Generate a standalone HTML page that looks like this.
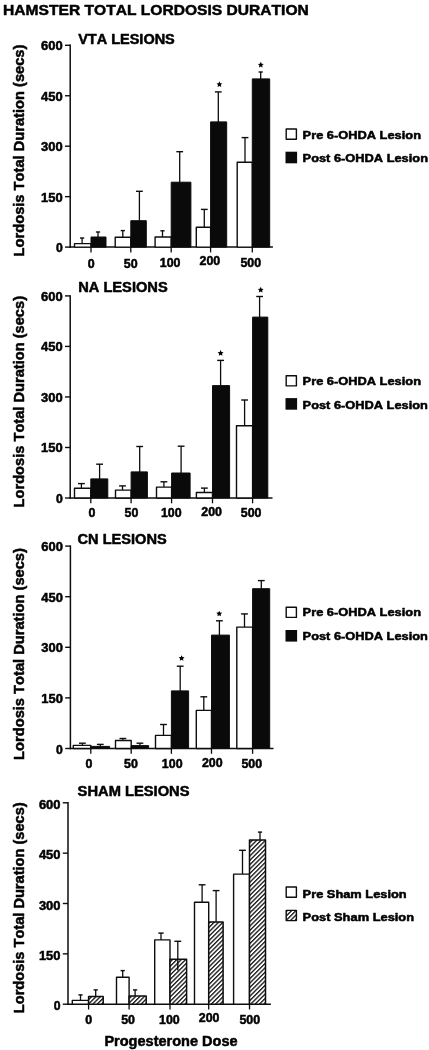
<!DOCTYPE html><html><head><meta charset="utf-8"><style>html,body{margin:0;padding:0;background:#fff;}svg{display:block;filter:blur(0.45px);}text{font-kerning:none;stroke:#000;stroke-width:0.5px;paint-order:stroke;}</style></head><body>
<svg width="429" height="1050" viewBox="0 0 429 1050">
<defs><pattern id="h" patternUnits="userSpaceOnUse" width="3.1" height="3.1" patternTransform="rotate(45)"><rect width="3.1" height="3.1" fill="#fff"/><rect x="0" y="0" width="1.35" height="3.1" fill="#1a1a1a"/></pattern></defs>
<rect width="429" height="1050" fill="#fff"/>
<g font-family='"Liberation Sans", sans-serif' font-weight="bold" fill="#000" stroke-linejoin="round">
<text x="3.1" y="15.3" font-size="15.5" textLength="305.7" lengthAdjust="spacingAndGlyphs">HAMSTER TOTAL LORDOSIS DURATION</text>
<text x="78.2" y="44.2" font-size="14" textLength="96.6" lengthAdjust="spacingAndGlyphs">VTA LESIONS</text>
<text transform="translate(23.9,150.5) rotate(-90)" x="0" y="0" font-size="14" text-anchor="middle" textLength="211.8" lengthAdjust="spacingAndGlyphs">Lordosis Total Duration (secs)</text>
<line x1="65" y1="247.1" x2="70.2" y2="247.1" stroke="#0d0d0d" stroke-width="1.4"/>
<text x="62.7" y="252.1" font-size="12.2" text-anchor="end">0</text>
<line x1="65" y1="196.65" x2="70.2" y2="196.65" stroke="#0d0d0d" stroke-width="1.4"/>
<text x="62.7" y="201.65" font-size="12.2" text-anchor="end" textLength="21.6" lengthAdjust="spacingAndGlyphs">150</text>
<line x1="65" y1="146.2" x2="70.2" y2="146.2" stroke="#0d0d0d" stroke-width="1.4"/>
<text x="62.7" y="151.2" font-size="12.2" text-anchor="end" textLength="21.6" lengthAdjust="spacingAndGlyphs">300</text>
<line x1="65" y1="95.75" x2="70.2" y2="95.75" stroke="#0d0d0d" stroke-width="1.4"/>
<text x="62.7" y="100.75" font-size="12.2" text-anchor="end" textLength="21.6" lengthAdjust="spacingAndGlyphs">450</text>
<line x1="65" y1="45.3" x2="70.2" y2="45.3" stroke="#0d0d0d" stroke-width="1.4"/>
<text x="62.7" y="50.3" font-size="12.2" text-anchor="end" textLength="21.6" lengthAdjust="spacingAndGlyphs">600</text>
<line x1="70.2" y1="44.6" x2="70.2" y2="247.8" stroke="#0d0d0d" stroke-width="1.5"/>
<line x1="69.5" y1="247.1" x2="272.9" y2="247.1" stroke="#0d0d0d" stroke-width="1.5"/>
<line x1="91" y1="247.1" x2="91" y2="252.4" stroke="#0d0d0d" stroke-width="1.3"/>
<line x1="82.1" y1="238" x2="82.1" y2="243.6" stroke="#0d0d0d" stroke-width="1.3"/>
<line x1="80" y1="238" x2="84.2" y2="238" stroke="#0d0d0d" stroke-width="1.4"/>
<line x1="98" y1="232" x2="98" y2="237" stroke="#0d0d0d" stroke-width="1.3"/>
<line x1="95.9" y1="232" x2="100.1" y2="232" stroke="#0d0d0d" stroke-width="1.4"/>
<rect x="74.5" y="243.6" width="16.5" height="3.5" fill="#fff" stroke="#0d0d0d" stroke-width="1.4"/>
<rect x="91" y="237" width="15" height="10.1" fill="#0a0a0a" stroke="#0d0d0d" stroke-width="1.0"/>
<text x="91.3" y="268.2" font-size="12.4" text-anchor="middle">0</text>
<line x1="130.8" y1="247.1" x2="130.8" y2="252.4" stroke="#0d0d0d" stroke-width="1.3"/>
<line x1="122.8" y1="230.6" x2="122.8" y2="237.2" stroke="#0d0d0d" stroke-width="1.3"/>
<line x1="120.7" y1="230.6" x2="124.9" y2="230.6" stroke="#0d0d0d" stroke-width="1.4"/>
<line x1="139.4" y1="191.3" x2="139.4" y2="220.7" stroke="#0d0d0d" stroke-width="1.3"/>
<line x1="136" y1="191.3" x2="142.8" y2="191.3" stroke="#0d0d0d" stroke-width="1.4"/>
<rect x="115.2" y="237.2" width="15.6" height="9.9" fill="#fff" stroke="#0d0d0d" stroke-width="1.4"/>
<rect x="130.8" y="220.7" width="15.5" height="26.4" fill="#0a0a0a" stroke="#0d0d0d" stroke-width="1.0"/>
<text x="130.7" y="267.6" font-size="12.4" text-anchor="middle">50</text>
<line x1="171.2" y1="247.1" x2="171.2" y2="252.4" stroke="#0d0d0d" stroke-width="1.3"/>
<line x1="162.5" y1="230.8" x2="162.5" y2="237" stroke="#0d0d0d" stroke-width="1.3"/>
<line x1="160.4" y1="230.8" x2="164.6" y2="230.8" stroke="#0d0d0d" stroke-width="1.4"/>
<line x1="179.7" y1="151.7" x2="179.7" y2="182.2" stroke="#0d0d0d" stroke-width="1.3"/>
<line x1="176.3" y1="151.7" x2="183.1" y2="151.7" stroke="#0d0d0d" stroke-width="1.4"/>
<rect x="155.1" y="237" width="16.1" height="10.1" fill="#fff" stroke="#0d0d0d" stroke-width="1.4"/>
<rect x="171.2" y="182.2" width="19.7" height="64.9" fill="#0a0a0a" stroke="#0d0d0d" stroke-width="1.0"/>
<text x="170.1" y="267" font-size="12.4" text-anchor="middle">100</text>
<line x1="210.6" y1="247.1" x2="210.6" y2="252.4" stroke="#0d0d0d" stroke-width="1.3"/>
<line x1="204.3" y1="209.4" x2="204.3" y2="227.2" stroke="#0d0d0d" stroke-width="1.3"/>
<line x1="200.9" y1="209.4" x2="207.7" y2="209.4" stroke="#0d0d0d" stroke-width="1.4"/>
<line x1="218.3" y1="91.9" x2="218.3" y2="121.9" stroke="#0d0d0d" stroke-width="1.3"/>
<line x1="214.9" y1="91.9" x2="221.7" y2="91.9" stroke="#0d0d0d" stroke-width="1.4"/>
<rect x="196.3" y="227.2" width="14.3" height="19.9" fill="#fff" stroke="#0d0d0d" stroke-width="1.4"/>
<rect x="210.6" y="121.9" width="16.1" height="125.2" fill="#0a0a0a" stroke="#0d0d0d" stroke-width="1.0"/>
<polygon points="219.4,81.3 220.28,83.19 222.35,83.44 220.83,84.86 221.22,86.91 219.4,85.9 217.58,86.91 217.97,84.86 216.45,83.44 218.52,83.19" fill="#000"/>
<text x="209.9" y="264.8" font-size="12.4" text-anchor="middle">200</text>
<line x1="252.3" y1="247.1" x2="252.3" y2="252.4" stroke="#0d0d0d" stroke-width="1.3"/>
<line x1="245" y1="137.6" x2="245" y2="162.2" stroke="#0d0d0d" stroke-width="1.3"/>
<line x1="241.6" y1="137.6" x2="248.4" y2="137.6" stroke="#0d0d0d" stroke-width="1.4"/>
<line x1="260.7" y1="72" x2="260.7" y2="78.9" stroke="#0d0d0d" stroke-width="1.3"/>
<line x1="258.6" y1="72" x2="262.8" y2="72" stroke="#0d0d0d" stroke-width="1.4"/>
<rect x="237.2" y="162.2" width="15.1" height="84.9" fill="#fff" stroke="#0d0d0d" stroke-width="1.4"/>
<rect x="252.3" y="78.9" width="17.4" height="168.2" fill="#0a0a0a" stroke="#0d0d0d" stroke-width="1.0"/>
<polygon points="260.8,61.8 261.68,63.69 263.75,63.94 262.23,65.36 262.62,67.41 260.8,66.4 258.98,67.41 259.37,65.36 257.85,63.94 259.92,63.69" fill="#000"/>
<text x="250.8" y="266.5" font-size="12.4" text-anchor="middle">500</text>
<rect x="286.2" y="129" width="10.2" height="10.2" fill="#fff" stroke="#0d0d0d" stroke-width="1.4"/>
<rect x="285.5" y="151.7" width="11.6" height="11.6" fill="#0a0a0a"/>
<text x="302.6" y="138.5" font-size="11" textLength="118.4" lengthAdjust="spacingAndGlyphs">Pre 6-OHDA Lesion</text>
<text x="302.6" y="162.1" font-size="11" textLength="125.4" lengthAdjust="spacingAndGlyphs">Post 6-OHDA Lesion</text>
<text x="78.2" y="292.2" font-size="14" textLength="89.5" lengthAdjust="spacingAndGlyphs">NA LESIONS</text>
<text transform="translate(23.9,401.7) rotate(-90)" x="0" y="0" font-size="14" text-anchor="middle" textLength="211.4" lengthAdjust="spacingAndGlyphs">Lordosis Total Duration (secs)</text>
<line x1="65" y1="498" x2="70.2" y2="498" stroke="#0d0d0d" stroke-width="1.4"/>
<text x="62.7" y="503" font-size="12.2" text-anchor="end">0</text>
<line x1="65" y1="447.48" x2="70.2" y2="447.48" stroke="#0d0d0d" stroke-width="1.4"/>
<text x="62.7" y="452.48" font-size="12.2" text-anchor="end" textLength="21.6" lengthAdjust="spacingAndGlyphs">150</text>
<line x1="65" y1="396.95" x2="70.2" y2="396.95" stroke="#0d0d0d" stroke-width="1.4"/>
<text x="62.7" y="401.95" font-size="12.2" text-anchor="end" textLength="21.6" lengthAdjust="spacingAndGlyphs">300</text>
<line x1="65" y1="346.42" x2="70.2" y2="346.42" stroke="#0d0d0d" stroke-width="1.4"/>
<text x="62.7" y="351.42" font-size="12.2" text-anchor="end" textLength="21.6" lengthAdjust="spacingAndGlyphs">450</text>
<line x1="65" y1="295.9" x2="70.2" y2="295.9" stroke="#0d0d0d" stroke-width="1.4"/>
<text x="62.7" y="300.9" font-size="12.2" text-anchor="end" textLength="21.6" lengthAdjust="spacingAndGlyphs">600</text>
<line x1="70.2" y1="295.2" x2="70.2" y2="498.7" stroke="#0d0d0d" stroke-width="1.5"/>
<line x1="69.5" y1="498" x2="272.5" y2="498" stroke="#0d0d0d" stroke-width="1.5"/>
<line x1="90.8" y1="498" x2="90.8" y2="503.3" stroke="#0d0d0d" stroke-width="1.3"/>
<line x1="81.4" y1="483.6" x2="81.4" y2="488.3" stroke="#0d0d0d" stroke-width="1.3"/>
<line x1="78" y1="483.6" x2="84.8" y2="483.6" stroke="#0d0d0d" stroke-width="1.4"/>
<line x1="99.6" y1="464.2" x2="99.6" y2="478.9" stroke="#0d0d0d" stroke-width="1.3"/>
<line x1="96.2" y1="464.2" x2="103" y2="464.2" stroke="#0d0d0d" stroke-width="1.4"/>
<rect x="74.5" y="488.3" width="16.3" height="9.7" fill="#fff" stroke="#0d0d0d" stroke-width="1.4"/>
<rect x="90.8" y="478.9" width="17" height="19.1" fill="#0a0a0a" stroke="#0d0d0d" stroke-width="1.0"/>
<text x="92" y="517.2" font-size="12.4" text-anchor="middle">0</text>
<line x1="131.1" y1="498" x2="131.1" y2="503.3" stroke="#0d0d0d" stroke-width="1.3"/>
<line x1="122.5" y1="485.9" x2="122.5" y2="490.1" stroke="#0d0d0d" stroke-width="1.3"/>
<line x1="119.1" y1="485.9" x2="125.9" y2="485.9" stroke="#0d0d0d" stroke-width="1.4"/>
<line x1="139.7" y1="446.5" x2="139.7" y2="471.9" stroke="#0d0d0d" stroke-width="1.3"/>
<line x1="136.3" y1="446.5" x2="143.1" y2="446.5" stroke="#0d0d0d" stroke-width="1.4"/>
<rect x="115.5" y="490.1" width="15.6" height="7.9" fill="#fff" stroke="#0d0d0d" stroke-width="1.4"/>
<rect x="131.1" y="471.9" width="16.3" height="26.1" fill="#0a0a0a" stroke="#0d0d0d" stroke-width="1.0"/>
<text x="131.5" y="517.2" font-size="12.4" text-anchor="middle">50</text>
<line x1="171.6" y1="498" x2="171.6" y2="503.3" stroke="#0d0d0d" stroke-width="1.3"/>
<line x1="163.9" y1="481.8" x2="163.9" y2="487.1" stroke="#0d0d0d" stroke-width="1.3"/>
<line x1="160.5" y1="481.8" x2="167.3" y2="481.8" stroke="#0d0d0d" stroke-width="1.4"/>
<line x1="181.1" y1="446.2" x2="181.1" y2="473" stroke="#0d0d0d" stroke-width="1.3"/>
<line x1="177.7" y1="446.2" x2="184.5" y2="446.2" stroke="#0d0d0d" stroke-width="1.4"/>
<rect x="156.5" y="487.1" width="15.1" height="10.9" fill="#fff" stroke="#0d0d0d" stroke-width="1.4"/>
<rect x="171.6" y="473" width="18.5" height="25" fill="#0a0a0a" stroke="#0d0d0d" stroke-width="1.0"/>
<text x="171.3" y="517" font-size="12.4" text-anchor="middle">100</text>
<line x1="212.5" y1="498" x2="212.5" y2="503.3" stroke="#0d0d0d" stroke-width="1.3"/>
<line x1="204.4" y1="488.1" x2="204.4" y2="492.5" stroke="#0d0d0d" stroke-width="1.3"/>
<line x1="201" y1="488.1" x2="207.8" y2="488.1" stroke="#0d0d0d" stroke-width="1.4"/>
<line x1="220.6" y1="360.4" x2="220.6" y2="385.6" stroke="#0d0d0d" stroke-width="1.3"/>
<line x1="217.2" y1="360.4" x2="224" y2="360.4" stroke="#0d0d0d" stroke-width="1.4"/>
<rect x="196.4" y="492.5" width="16.1" height="5.5" fill="#fff" stroke="#0d0d0d" stroke-width="1.4"/>
<rect x="212.5" y="385.6" width="17.1" height="112.4" fill="#0a0a0a" stroke="#0d0d0d" stroke-width="1.0"/>
<polygon points="220.6,350.1 221.48,351.99 223.55,352.24 222.03,353.66 222.42,355.71 220.6,354.7 218.78,355.71 219.17,353.66 217.65,352.24 219.72,351.99" fill="#000"/>
<text x="211.6" y="515.7" font-size="12.4" text-anchor="middle">200</text>
<line x1="252.6" y1="498" x2="252.6" y2="503.3" stroke="#0d0d0d" stroke-width="1.3"/>
<line x1="244.6" y1="400" x2="244.6" y2="425.7" stroke="#0d0d0d" stroke-width="1.3"/>
<line x1="241.2" y1="400" x2="248" y2="400" stroke="#0d0d0d" stroke-width="1.4"/>
<line x1="259.6" y1="296.5" x2="259.6" y2="317.1" stroke="#0d0d0d" stroke-width="1.3"/>
<line x1="256.2" y1="296.5" x2="263" y2="296.5" stroke="#0d0d0d" stroke-width="1.4"/>
<rect x="236.5" y="425.7" width="16.1" height="72.3" fill="#fff" stroke="#0d0d0d" stroke-width="1.4"/>
<rect x="252.6" y="317.1" width="15.2" height="180.9" fill="#0a0a0a" stroke="#0d0d0d" stroke-width="1.0"/>
<polygon points="260.7,286.8 261.58,288.69 263.65,288.94 262.13,290.36 262.52,292.41 260.7,291.4 258.88,292.41 259.27,290.36 257.75,288.94 259.82,288.69" fill="#000"/>
<text x="251.1" y="517" font-size="12.4" text-anchor="middle">500</text>
<rect x="286.2" y="375.7" width="10.2" height="10.2" fill="#fff" stroke="#0d0d0d" stroke-width="1.4"/>
<rect x="285.5" y="398.1" width="11.6" height="11.6" fill="#0a0a0a"/>
<text x="302.6" y="384.8" font-size="11" textLength="118.4" lengthAdjust="spacingAndGlyphs">Pre 6-OHDA Lesion</text>
<text x="302.6" y="408.6" font-size="11" textLength="125.3" lengthAdjust="spacingAndGlyphs">Post 6-OHDA Lesion</text>
<text x="77.6" y="543.5" font-size="14" textLength="89.1" lengthAdjust="spacingAndGlyphs">CN LESIONS</text>
<text transform="translate(23.9,654) rotate(-90)" x="0" y="0" font-size="14" text-anchor="middle" textLength="211.8" lengthAdjust="spacingAndGlyphs">Lordosis Total Duration (secs)</text>
<line x1="65.2" y1="748.5" x2="70.4" y2="748.5" stroke="#0d0d0d" stroke-width="1.4"/>
<text x="62.9" y="753.5" font-size="12.2" text-anchor="end">0</text>
<line x1="65.2" y1="697.9" x2="70.4" y2="697.9" stroke="#0d0d0d" stroke-width="1.4"/>
<text x="62.9" y="702.9" font-size="12.2" text-anchor="end" textLength="21.6" lengthAdjust="spacingAndGlyphs">150</text>
<line x1="65.2" y1="647.3" x2="70.4" y2="647.3" stroke="#0d0d0d" stroke-width="1.4"/>
<text x="62.9" y="652.3" font-size="12.2" text-anchor="end" textLength="21.6" lengthAdjust="spacingAndGlyphs">300</text>
<line x1="65.2" y1="596.7" x2="70.4" y2="596.7" stroke="#0d0d0d" stroke-width="1.4"/>
<text x="62.9" y="601.7" font-size="12.2" text-anchor="end" textLength="21.6" lengthAdjust="spacingAndGlyphs">450</text>
<line x1="65.2" y1="546.1" x2="70.4" y2="546.1" stroke="#0d0d0d" stroke-width="1.4"/>
<text x="62.9" y="551.1" font-size="12.2" text-anchor="end" textLength="21.6" lengthAdjust="spacingAndGlyphs">600</text>
<line x1="70.4" y1="545.4" x2="70.4" y2="749.2" stroke="#0d0d0d" stroke-width="1.5"/>
<line x1="69.7" y1="748.5" x2="273.5" y2="748.5" stroke="#0d0d0d" stroke-width="1.5"/>
<line x1="90.8" y1="748.5" x2="90.8" y2="753.8" stroke="#0d0d0d" stroke-width="1.3"/>
<line x1="82.4" y1="743.2" x2="82.4" y2="745.4" stroke="#0d0d0d" stroke-width="1.3"/>
<line x1="79" y1="743.2" x2="85.8" y2="743.2" stroke="#0d0d0d" stroke-width="1.4"/>
<line x1="100.3" y1="744.4" x2="100.3" y2="746.4" stroke="#0d0d0d" stroke-width="1.3"/>
<line x1="96.9" y1="744.4" x2="103.7" y2="744.4" stroke="#0d0d0d" stroke-width="1.4"/>
<rect x="73.3" y="745.4" width="17.5" height="3.1" fill="#fff" stroke="#0d0d0d" stroke-width="1.4"/>
<rect x="90.8" y="746.4" width="18.8" height="2.1" fill="#0a0a0a" stroke="#0d0d0d" stroke-width="1.0"/>
<text x="89" y="768.4" font-size="12.4" text-anchor="middle">0</text>
<line x1="131.2" y1="748.5" x2="131.2" y2="753.8" stroke="#0d0d0d" stroke-width="1.3"/>
<line x1="122.9" y1="738.5" x2="122.9" y2="740.5" stroke="#0d0d0d" stroke-width="1.3"/>
<line x1="119.5" y1="738.5" x2="126.3" y2="738.5" stroke="#0d0d0d" stroke-width="1.4"/>
<line x1="139.9" y1="743.2" x2="139.9" y2="745.6" stroke="#0d0d0d" stroke-width="1.3"/>
<line x1="136.5" y1="743.2" x2="143.3" y2="743.2" stroke="#0d0d0d" stroke-width="1.4"/>
<rect x="115.5" y="740.5" width="15.7" height="8" fill="#fff" stroke="#0d0d0d" stroke-width="1.4"/>
<rect x="131.2" y="745.6" width="17.4" height="2.9" fill="#0a0a0a" stroke="#0d0d0d" stroke-width="1.0"/>
<text x="131" y="768.4" font-size="12.4" text-anchor="middle">50</text>
<line x1="171.4" y1="748.5" x2="171.4" y2="753.8" stroke="#0d0d0d" stroke-width="1.3"/>
<line x1="163.5" y1="724.5" x2="163.5" y2="735.4" stroke="#0d0d0d" stroke-width="1.3"/>
<line x1="160.1" y1="724.5" x2="166.9" y2="724.5" stroke="#0d0d0d" stroke-width="1.4"/>
<line x1="180.2" y1="666.2" x2="180.2" y2="690.9" stroke="#0d0d0d" stroke-width="1.3"/>
<line x1="176.8" y1="666.2" x2="183.6" y2="666.2" stroke="#0d0d0d" stroke-width="1.4"/>
<rect x="155.5" y="735.4" width="15.9" height="13.1" fill="#fff" stroke="#0d0d0d" stroke-width="1.4"/>
<rect x="171.4" y="690.9" width="17.2" height="57.6" fill="#0a0a0a" stroke="#0d0d0d" stroke-width="1.0"/>
<polygon points="181.6,655.2 182.48,657.09 184.55,657.34 183.03,658.76 183.42,660.81 181.6,659.8 179.78,660.81 180.17,658.76 178.65,657.34 180.72,657.09" fill="#000"/>
<text x="172.2" y="767.9" font-size="12.4" text-anchor="middle">100</text>
<line x1="211.5" y1="748.5" x2="211.5" y2="753.8" stroke="#0d0d0d" stroke-width="1.3"/>
<line x1="203.8" y1="696.8" x2="203.8" y2="710.4" stroke="#0d0d0d" stroke-width="1.3"/>
<line x1="200.4" y1="696.8" x2="207.2" y2="696.8" stroke="#0d0d0d" stroke-width="1.4"/>
<line x1="219.4" y1="620.8" x2="219.4" y2="635.1" stroke="#0d0d0d" stroke-width="1.3"/>
<line x1="216" y1="620.8" x2="222.8" y2="620.8" stroke="#0d0d0d" stroke-width="1.4"/>
<rect x="196.3" y="710.4" width="15.2" height="38.1" fill="#fff" stroke="#0d0d0d" stroke-width="1.4"/>
<rect x="211.5" y="635.1" width="17.9" height="113.4" fill="#0a0a0a" stroke="#0d0d0d" stroke-width="1.0"/>
<polygon points="219.2,610.7 220.08,612.59 222.15,612.84 220.63,614.26 221.02,616.31 219.2,615.3 217.38,616.31 217.77,614.26 216.25,612.84 218.32,612.59" fill="#000"/>
<text x="212.3" y="766.5" font-size="12.4" text-anchor="middle">200</text>
<line x1="252.6" y1="748.5" x2="252.6" y2="753.8" stroke="#0d0d0d" stroke-width="1.3"/>
<line x1="244.5" y1="613.9" x2="244.5" y2="627.1" stroke="#0d0d0d" stroke-width="1.3"/>
<line x1="241.1" y1="613.9" x2="247.9" y2="613.9" stroke="#0d0d0d" stroke-width="1.4"/>
<line x1="261.3" y1="580.6" x2="261.3" y2="588.7" stroke="#0d0d0d" stroke-width="1.3"/>
<line x1="257.9" y1="580.6" x2="264.7" y2="580.6" stroke="#0d0d0d" stroke-width="1.4"/>
<rect x="236.8" y="627.1" width="15.8" height="121.4" fill="#fff" stroke="#0d0d0d" stroke-width="1.4"/>
<rect x="252.6" y="588.7" width="17.1" height="159.8" fill="#0a0a0a" stroke="#0d0d0d" stroke-width="1.0"/>
<text x="251.8" y="767.9" font-size="12.4" text-anchor="middle">500</text>
<rect x="286.2" y="607.2" width="10.2" height="10.2" fill="#fff" stroke="#0d0d0d" stroke-width="1.4"/>
<rect x="285.5" y="630" width="11.6" height="11.6" fill="#0a0a0a"/>
<text x="302.6" y="616" font-size="11" textLength="118.4" lengthAdjust="spacingAndGlyphs">Pre 6-OHDA Lesion</text>
<text x="302.6" y="640" font-size="11" textLength="125.3" lengthAdjust="spacingAndGlyphs">Post 6-OHDA Lesion</text>
<text x="77.6" y="796.1" font-size="14" textLength="111.9" lengthAdjust="spacingAndGlyphs">SHAM LESIONS</text>
<text transform="translate(23.9,907.8) rotate(-90)" x="0" y="0" font-size="14" text-anchor="middle" textLength="210.8" lengthAdjust="spacingAndGlyphs">Lordosis Total Duration (secs)</text>
<line x1="62.8" y1="1004.2" x2="68" y2="1004.2" stroke="#0d0d0d" stroke-width="1.4"/>
<text x="60.5" y="1010.2" font-size="12.2" text-anchor="end">0</text>
<line x1="62.8" y1="953.85" x2="68" y2="953.85" stroke="#0d0d0d" stroke-width="1.4"/>
<text x="60.5" y="959.85" font-size="12.2" text-anchor="end" textLength="21.6" lengthAdjust="spacingAndGlyphs">150</text>
<line x1="62.8" y1="903.5" x2="68" y2="903.5" stroke="#0d0d0d" stroke-width="1.4"/>
<text x="60.5" y="909.5" font-size="12.2" text-anchor="end" textLength="21.6" lengthAdjust="spacingAndGlyphs">300</text>
<line x1="62.8" y1="853.15" x2="68" y2="853.15" stroke="#0d0d0d" stroke-width="1.4"/>
<text x="60.5" y="859.15" font-size="12.2" text-anchor="end" textLength="21.6" lengthAdjust="spacingAndGlyphs">450</text>
<line x1="62.8" y1="802.8" x2="68" y2="802.8" stroke="#0d0d0d" stroke-width="1.4"/>
<text x="60.5" y="808.8" font-size="12.2" text-anchor="end" textLength="21.6" lengthAdjust="spacingAndGlyphs">600</text>
<line x1="68" y1="802.1" x2="68" y2="1004.9" stroke="#0d0d0d" stroke-width="1.5"/>
<line x1="67.3" y1="1004.2" x2="270.9" y2="1004.2" stroke="#0d0d0d" stroke-width="1.5"/>
<line x1="88.6" y1="1004.2" x2="88.6" y2="1009.5" stroke="#0d0d0d" stroke-width="1.3"/>
<line x1="80.5" y1="994.9" x2="80.5" y2="1000.4" stroke="#0d0d0d" stroke-width="1.3"/>
<line x1="78.4" y1="994.9" x2="82.6" y2="994.9" stroke="#0d0d0d" stroke-width="1.4"/>
<line x1="95.7" y1="989.9" x2="95.7" y2="996.4" stroke="#0d0d0d" stroke-width="1.3"/>
<line x1="93.6" y1="989.9" x2="97.8" y2="989.9" stroke="#0d0d0d" stroke-width="1.4"/>
<rect x="72.3" y="1000.4" width="16.3" height="3.8" fill="#fff" stroke="#0d0d0d" stroke-width="1.4"/>
<rect x="88.6" y="996.4" width="14.6" height="7.8" fill="url(#h)" stroke="#0d0d0d" stroke-width="1.5"/>
<text x="88.6" y="1024.2" font-size="12.4" text-anchor="middle">0</text>
<line x1="129.1" y1="1004.2" x2="129.1" y2="1009.5" stroke="#0d0d0d" stroke-width="1.3"/>
<line x1="122.7" y1="970.6" x2="122.7" y2="977.3" stroke="#0d0d0d" stroke-width="1.3"/>
<line x1="120.6" y1="970.6" x2="124.8" y2="970.6" stroke="#0d0d0d" stroke-width="1.4"/>
<line x1="135.1" y1="989.9" x2="135.1" y2="996.1" stroke="#0d0d0d" stroke-width="1.3"/>
<line x1="133" y1="989.9" x2="137.2" y2="989.9" stroke="#0d0d0d" stroke-width="1.4"/>
<rect x="116.5" y="977.3" width="12.6" height="26.9" fill="#fff" stroke="#0d0d0d" stroke-width="1.4"/>
<rect x="129.1" y="996.1" width="17.1" height="8.1" fill="url(#h)" stroke="#0d0d0d" stroke-width="1.5"/>
<text x="128.1" y="1024.2" font-size="12.4" text-anchor="middle">50</text>
<line x1="170" y1="1004.2" x2="170" y2="1009.5" stroke="#0d0d0d" stroke-width="1.3"/>
<line x1="161" y1="933.1" x2="161" y2="939.9" stroke="#0d0d0d" stroke-width="1.3"/>
<line x1="158.3" y1="933.1" x2="163.7" y2="933.1" stroke="#0d0d0d" stroke-width="1.4"/>
<line x1="177.8" y1="941.3" x2="177.8" y2="959.2" stroke="#0d0d0d" stroke-width="1.3"/>
<line x1="174.4" y1="941.3" x2="181.2" y2="941.3" stroke="#0d0d0d" stroke-width="1.4"/>
<rect x="154.7" y="939.9" width="15.3" height="64.3" fill="#fff" stroke="#0d0d0d" stroke-width="1.4"/>
<rect x="170" y="959.2" width="16.6" height="45" fill="url(#h)" stroke="#0d0d0d" stroke-width="1.5"/>
<line x1="177.8" y1="959.2" x2="177.8" y2="970.6" stroke="#0d0d0d" stroke-width="1.4"/>
<text x="169.4" y="1024" font-size="12.4" text-anchor="middle">100</text>
<line x1="208.7" y1="1004.2" x2="208.7" y2="1009.5" stroke="#0d0d0d" stroke-width="1.3"/>
<line x1="202.1" y1="884.8" x2="202.1" y2="902.3" stroke="#0d0d0d" stroke-width="1.3"/>
<line x1="198.7" y1="884.8" x2="205.5" y2="884.8" stroke="#0d0d0d" stroke-width="1.4"/>
<line x1="216.1" y1="890.6" x2="216.1" y2="921.9" stroke="#0d0d0d" stroke-width="1.3"/>
<line x1="212.7" y1="890.6" x2="219.5" y2="890.6" stroke="#0d0d0d" stroke-width="1.4"/>
<rect x="194.5" y="902.3" width="14.2" height="101.9" fill="#fff" stroke="#0d0d0d" stroke-width="1.4"/>
<rect x="208.7" y="921.9" width="14.4" height="82.3" fill="url(#h)" stroke="#0d0d0d" stroke-width="1.5"/>
<text x="209.1" y="1022.1" font-size="12.4" text-anchor="middle">200</text>
<line x1="249.5" y1="1004.2" x2="249.5" y2="1009.5" stroke="#0d0d0d" stroke-width="1.3"/>
<line x1="242.5" y1="850.3" x2="242.5" y2="874.1" stroke="#0d0d0d" stroke-width="1.3"/>
<line x1="239.1" y1="850.3" x2="245.9" y2="850.3" stroke="#0d0d0d" stroke-width="1.4"/>
<line x1="260" y1="832.1" x2="260" y2="840" stroke="#0d0d0d" stroke-width="1.3"/>
<line x1="257.9" y1="832.1" x2="262.1" y2="832.1" stroke="#0d0d0d" stroke-width="1.4"/>
<rect x="233.6" y="874.1" width="15.9" height="130.1" fill="#fff" stroke="#0d0d0d" stroke-width="1.4"/>
<rect x="249.5" y="840" width="16" height="164.2" fill="url(#h)" stroke="#0d0d0d" stroke-width="1.5"/>
<text x="249.8" y="1024" font-size="12.4" text-anchor="middle">500</text>
<rect x="286.2" y="887" width="10.2" height="10.2" fill="#fff" stroke="#0d0d0d" stroke-width="1.4"/>
<rect x="286.2" y="910.4" width="10.2" height="10.2" fill="url(#h)" stroke="#0d0d0d" stroke-width="1.4"/>
<text x="302.6" y="897.8" font-size="11" textLength="104.1" lengthAdjust="spacingAndGlyphs">Pre Sham Lesion</text>
<text x="302.6" y="920.6" font-size="11" textLength="111.5" lengthAdjust="spacingAndGlyphs">Post Sham Lesion</text>
<text x="104.4" y="1046" font-size="14" textLength="133.2" lengthAdjust="spacingAndGlyphs">Progesterone Dose</text>
</g></svg></body></html>
